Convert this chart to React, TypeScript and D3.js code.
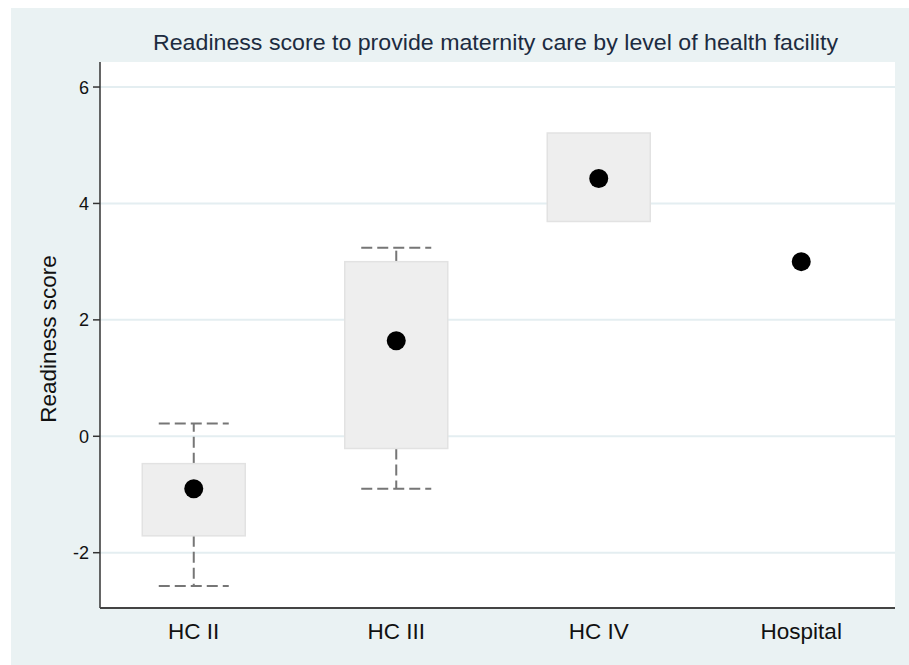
import React from "react";
import * as d3 from "d3";

const categories = ["HC II", "HC III", "HC IV", "Hospital"];
const medians = [-0.9, 1.64, 4.43, 3.0];
const q1 = [-1.71, -0.21, 3.69, 3.0];
const q3 = [-0.47, 3.0, 5.21, 3.0];
const whiskerLow = [-2.57, -0.9, 3.69, 3.0];
const whiskerHigh = [0.22, 3.24, 5.21, 3.0];
const yTicks = [-2, 0, 2, 4, 6];

const W = 909;
const H = 665;
const margin = { left: 100, right: 14, top: 62, bottom: 57 };

const App: React.FC = () => {
  const x = d3
    .scalePoint<string>()
    .domain(categories)
    .range([margin.left, W - margin.right])
    .padding(0.463);
  const y = d3
    .scaleLinear()
    .domain([-2.95, 6.43])
    .range([H - margin.bottom, margin.top]);

  const boxW = 103;
  const capW = 70;
  const dash = "11,5";

  return (
    <svg
      width={W}
      height={H}
      style={{ position: "absolute", left: 0, top: 0 }}
      fontFamily="'Liberation Sans', Arial, sans-serif"
    >
      <rect x={0} y={0} width={W} height={H} fill="#ffffff" />
      <rect x={11} y={8} width={W - 11} height={H - 8} fill="#eaf2f3" />
      <rect
        x={margin.left}
        y={margin.top}
        width={W - margin.right - margin.left}
        height={H - margin.bottom - margin.top}
        fill="#ffffff"
      />
      <text
        x={(153 + 838) / 2}
        y={50}
        textAnchor="middle"
        fontSize={22}
        fill="#1c2b40"
        textLength={685}
        lengthAdjust="spacingAndGlyphs"
      >
        Readiness score to provide maternity care by level of health facility
      </text>

      {/* grid */}
      {yTicks.map((t) => (
        <line
          key={"g" + t}
          x1={margin.left}
          x2={W - margin.right}
          y1={y(t)}
          y2={y(t)}
          stroke="#e4eef1"
          strokeWidth={2}
        />
      ))}

      {/* boxes */}
      {categories.map((c, i) => {
        const cx = x(c)!;
        const hasBox = q3[i] > q1[i];
        return (
          <g key={c}>
            {whiskerHigh[i] > q3[i] && (
              <g stroke="#767676" strokeWidth={2} strokeDasharray={dash} fill="none">
                <line x1={cx} x2={cx} y1={y(q3[i])} y2={y(whiskerHigh[i])} />
                <line x1={cx - capW / 2} x2={cx + capW / 2} y1={y(whiskerHigh[i])} y2={y(whiskerHigh[i])} />
              </g>
            )}
            {whiskerLow[i] < q1[i] && (
              <g stroke="#767676" strokeWidth={2} strokeDasharray={dash} fill="none">
                <line x1={cx} x2={cx} y1={y(q1[i])} y2={y(whiskerLow[i])} />
                <line x1={cx - capW / 2} x2={cx + capW / 2} y1={y(whiskerLow[i])} y2={y(whiskerLow[i])} />
              </g>
            )}
            {hasBox && (
              <rect
                x={cx - boxW / 2}
                y={y(q3[i])}
                width={boxW}
                height={y(q1[i]) - y(q3[i])}
                fill="#eeeeee"
                stroke="#e2e2e2"
                strokeWidth={1.5}
              />
            )}
            <circle cx={cx} cy={y(medians[i])} r={9.5} fill="#000" />
            <text
              x={cx}
              y={639}
              textAnchor="middle"
              fontSize={22.5}
              fill="#111"
            >
              {c}
            </text>
          </g>
        );
      })}

      {/* axes */}
      <line
        x1={margin.left}
        x2={margin.left}
        y1={margin.top}
        y2={H - margin.bottom}
        stroke="#333"
        strokeWidth={1.5}
      />
      <line
        x1={margin.left}
        x2={W - margin.right}
        y1={H - margin.bottom}
        y2={H - margin.bottom}
        stroke="#444"
        strokeWidth={2}
      />
      {yTicks.map((t) => (
        <g key={"t" + t}>
          <line x1={margin.left - 7} x2={margin.left} y1={y(t)} y2={y(t)} stroke="#333" strokeWidth={1.5} />
          <text x={89} y={y(t)} dy="0.36em" textAnchor="end" fontSize={18} fill="#111">
            {t}
          </text>
        </g>
      ))}
      <text
        transform={`translate(56, ${339}) rotate(-90)`}
        textAnchor="middle"
        fontSize={22.5}
        fill="#111"
      >
        Readiness score
      </text>
    </svg>
  );
};

export default App;
